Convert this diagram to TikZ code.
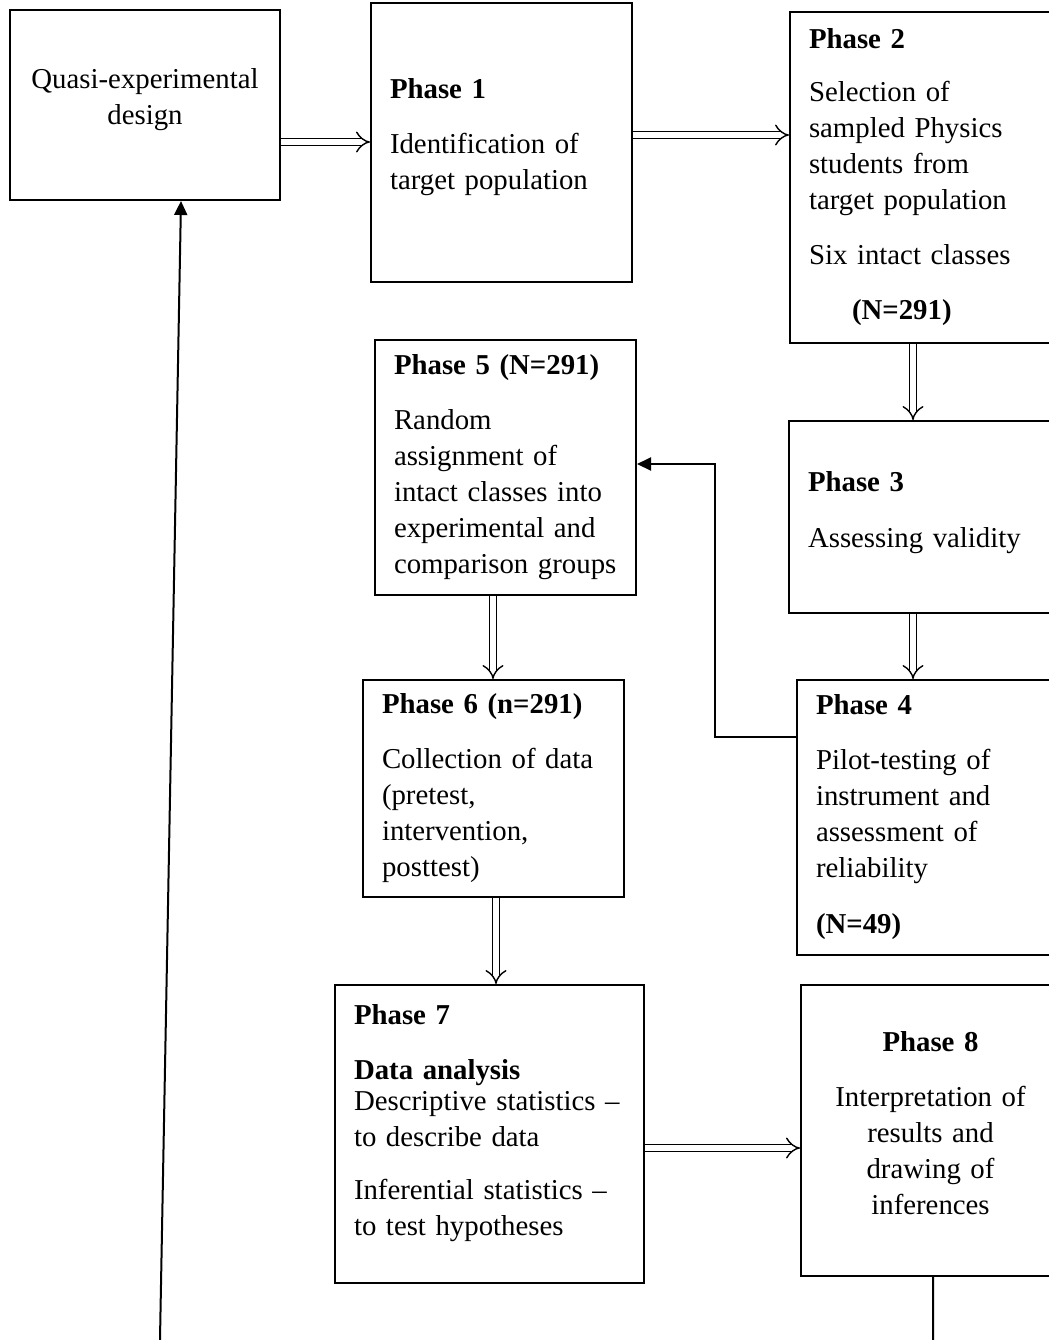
\documentclass[tikz,border=0pt]{standalone}
\usepackage{fontspec}
\setmainfont{Liberation Serif}
\usetikzlibrary{arrows.meta}

\tikzset{
  phase/.style={draw, line width=1pt, inner xsep=9.5pt, inner ysep=0pt,
    align=left, font=\fontsize{14.4}{18}\selectfont},
  hollow/.style={double, double distance=3pt, line width=0.7pt, -{Implies}},
  link/.style={line width=1pt, -{Triangle[length=7pt,width=6.5pt]}},
}

\begin{document}
\begin{tikzpicture}[x=0.5pt,y=-0.5pt]
    \useasboundingbox (0,0) rectangle (1049,1340);
    \clip (0,0) rectangle (1049,1340);

    % boxes
    \node[phase, align=center, text width=116pt, minimum height=95pt] (quasi) at (145,105)
      {Quasi-experimental\\design\\[-10pt]\mbox{}};
    \node[phase, text width=111.5pt, minimum height=139.5pt] (p1) at (501.5,142.5)
      {\textbf{Phase 1}\\[9.5pt] Identification of\\ target population\\[-10pt]\mbox{}};
    \node[phase, text width=116pt, minimum height=165.5pt] (p2) at (925,177.5)
      {\textbf{Phase 2}\\[8.5pt] Selection of\\ sampled Physics\\ students from\\ target population\\[9.5pt]
       Six intact classes\\[9.5pt] \hspace*{21.5pt}\textbf{(N=291)}};
    \node[phase, text width=116.5pt, minimum height=96pt] (p3) at (924.5,517)
      {\textbf{Phase 3}\\[10pt] Assessing validity\\[-10pt]\mbox{}};
    \node[phase, text width=112.5pt, minimum height=137.5pt] (p4) at (928.5,817.5)
      {\textbf{Phase 4}\\[9.5pt] Pilot-testing of\\ instrument and\\ assessment of\\ reliability\\[10pt]
       \textbf{(N=49)}};
    \node[phase, text width=111.5pt, minimum height=127.5pt] (p5) at (505.5,467.5)
      {\textbf{Phase 5 (N=291)}\\[9.5pt] Random\\ assignment of\\ intact classes into\\ experimental and\\
       comparison groups};
    \node[phase, text width=111.5pt, minimum height=108.5pt] (p6) at (493.5,788.5)
      {\textbf{Phase 6 (n=291)}\\[9.5pt] Collection of data\\ (pretest,\\ intervention,\\ posttest)};
    \node[phase, text width=135.5pt, minimum height=149pt] (p7) at (489.5,1134)
      {\textbf{Phase 7}\\[9.5pt] \textbf{Data analysis}\\[-2.5pt] Descriptive statistics --\\ to describe data\\[8.5pt]
       Inferential statistics --\\ to test hypotheses\\[-4pt]\mbox{}};
    \node[phase, align=center, text width=110.5pt, minimum height=145.5pt] (p8) at (930.5,1130.5)
      {\textbf{Phase 8}\\[9.5pt] Interpretation of\\ results and\\ drawing of\\ inferences\\[-10pt]\mbox{}};

    % hollow arrows
    \draw[hollow] (quasi.east |- 0,142) -- (p1.west |- 0,142);
    \draw[hollow] (p1.east |- 0,135) -- (p2.west |- 0,135);
    \draw[hollow] (p2.south -| 913,0) -- (p3.north -| 913,0);
    \draw[hollow] (p3.south -| 913,0) -- (p4.north -| 913,0);
    \draw[hollow] (p5.south -| 493,0) -- (p6.north -| 493,0);
    \draw[hollow] (p6.south -| 496,0) -- (p7.north -| 496,0);
    \draw[hollow] (p7.east |- 0,1148) -- (p8.west |- 0,1148);

    % feedback lines
    \draw[link] (p4.west |- 0,737) -- (715,737) -- (715,464) -- (p5.east |- 0,464);
    \draw[link] (p8.south -| 933,0) -- (933,1343) -- (160,1343) -- (160,1339) -- (quasi.south -| 181,0);

\end{tikzpicture}
\end{document}
